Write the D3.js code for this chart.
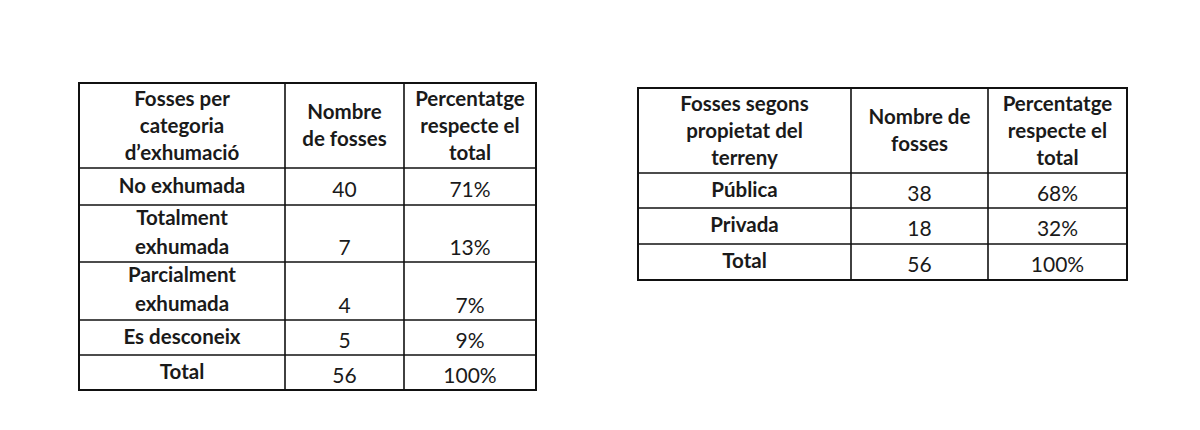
<!DOCTYPE html>
<html><head><meta charset="utf-8">
<script src="https://cdn.jsdelivr.net/npm/d3@7"></script>
<style>body{margin:0;background:#fff}text{font-family:Lato,"Open Sans",sans-serif;fill:#1a1a1a}</style>
</head><body><svg width="1200" height="430"></svg>
<script>
// table 1: fosses per categoria d'exhumació
var headers1 = [["Fosses per","categoria","d’exhumació"],["Nombre","de fosses"],["Percentatge","respecte el","total"]];
var cats1 = [["No exhumada"],["Totalment","exhumada"],["Parcialment","exhumada"],["Es desconeix"],["Total"]];
var counts1 = [40,7,4,5,56];
var pcts1 = ["71%","13%","7%","9%","100%"];
// table 2: fosses segons propietat del terreny
var headers2 = [["Fosses segons","propietat del","terreny"],["Nombre de","fosses"],["Percentatge","respecte el","total"]];
var cats2 = [["Pública"],["Privada"],["Total"]];
var counts2 = [38,18,56];
var pcts2 = ["68%","32%","100%"];

var svg = d3.select("svg");

function drawTable(cfg){
  var g = svg.append("g");
  var rows = [{cells:cfg.headers,head:true}].concat(cfg.cats.map(function(c,i){
    return {cells:[c,[String(cfg.counts[i])],[cfg.pcts[i]]],head:false};
  }));
  var x0 = cfg.cols[0], x1 = cfg.cols[cfg.cols.length-1];
  g.append("rect").attr("x",x0).attr("y",cfg.rows[0]).attr("width",x1-x0)
    .attr("height",cfg.rows[cfg.rows.length-1]-cfg.rows[0])
    .attr("fill","none").attr("stroke","#111").attr("stroke-width",2);
  cfg.cols.slice(1,-1).forEach(function(x){
    g.append("line").attr("x1",x).attr("x2",x).attr("y1",cfg.rows[0]).attr("y2",cfg.rows[cfg.rows.length-1]).attr("stroke","#111").attr("stroke-width",1.6);
  });
  cfg.rows.slice(1,-1).forEach(function(y){
    g.append("line").attr("x1",x0).attr("x2",x1).attr("y1",y).attr("y2",y).attr("stroke","#111").attr("stroke-width",1.6);
  });
  rows.forEach(function(r,ri){
    var top = cfg.rows[ri], bot = cfg.rows[ri+1], mid=(top+bot)/2;
    var nLines = d3.max(r.cells,function(c){return c.length;});
    r.cells.forEach(function(lines,ci){
      var cx = (cfg.cols[ci]+cfg.cols[ci+1])/2;
      var bold = r.head || ci===0;
      lines.forEach(function(t,li){
        var y;
        if(r.head){ y = mid + (li-(lines.length-1)/2)*27 + 7; }
        else if(nLines>1){ y = ci===0 ? top+20+li*29 : bot-7; }
        else { y = mid + (ci===0?6:10); }
        g.append("text").attr("x",cx).attr("y",y).attr("text-anchor","middle")
          .attr("font-size",bold?20.5:21).attr("font-weight",bold?700:400).text(t);
      });
    });
  });
}

drawTable({headers:headers1,cats:cats1,counts:counts1,pcts:pcts1,
  cols:[79,285,404,536], rows:[83,168,205,262,320,355,390]});
drawTable({headers:headers2,cats:cats2,counts:counts2,pcts:pcts2,
  cols:[638,851,988,1127], rows:[88,173,208,244,280]});
</script></body></html>
